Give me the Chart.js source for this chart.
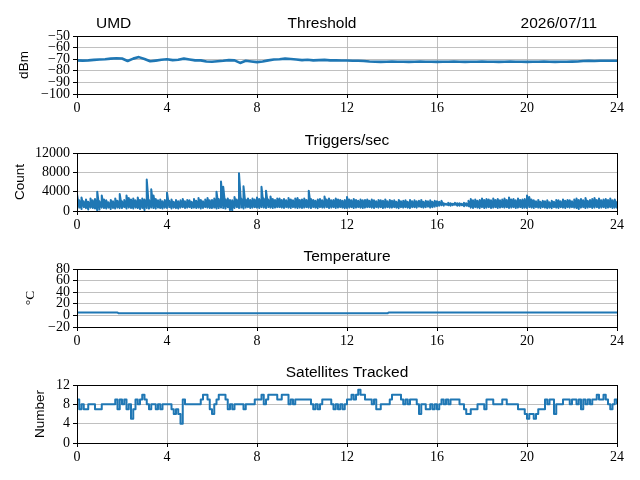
<!DOCTYPE html>
<html>
<head>
<meta charset="utf-8">
<script src="https://cdn.jsdelivr.net/npm/chart.js@4.4.1/dist/chart.umd.min.js"></script>
<style>
  html, body { margin: 0; padding: 0; background: #fff; }
  #fig { position: relative; width: 640px; height: 480px; overflow: hidden; }
  #fig canvas { position: absolute; left: 0; }
</style>
</head>
<body>
<div id="fig">
  <canvas id="c_thr" width="640" height="116" style="top:0px"></canvas>
  <canvas id="c_trg" width="640" height="116" style="top:117px"></canvas>
  <canvas id="c_tmp" width="640" height="116" style="top:233px"></canvas>
  <canvas id="c_sat" width="640" height="116" style="top:349px"></canvas>
</div>
<script>
// --- data (hours of day 0..24) ---
const stationName = "UMD";
const dayLabel = "2026/07/11";
const xTicks = [0, 4, 8, 12, 16, 20, 24];

// threshold, dBm, one reading per 15 min
const thresholdStepH = 0.25;
const thresholdDbm = [
  -71.0, -71.2, -71.0, -70.6, -70.3, -70.0, -69.5, -69.2, -69.4, -71.5,
  -69.5, -68.2, -69.8, -71.8, -71.2, -70.5, -70.0, -70.8, -70.5, -69.5,
  -70.3, -71.0, -71.0, -72.0, -72.2, -71.8, -71.4, -70.8, -71.0, -73.2,
  -71.4, -72.0, -72.5, -72.0, -71.0, -70.2, -70.0, -69.5, -69.8, -70.3,
  -70.8, -70.5, -71.0, -70.8, -70.6, -71.0, -71.0, -71.1, -71.1, -71.3,
  -71.4, -71.5, -72.0, -72.2, -72.3, -72.2, -72.1, -72.2, -72.2, -72.3,
  -72.2, -72.1, -72.2, -72.2, -72.3, -72.2, -72.2, -72.1, -72.2, -72.3,
  -72.2, -72.2, -72.1, -72.2, -72.2, -72.3, -72.2, -72.1, -72.2, -72.2,
  -72.3, -72.2, -72.2, -72.1, -72.2, -72.3, -72.2, -72.2, -72.1, -72.0,
  -71.6, -71.4, -71.5, -71.4, -71.3, -71.4, -71.4
];

// triggers per second: min and max seen in each 6 min slot
const triggerStepH = 0.1;
const triggerHigh = [
  3500, 2200, 2800, 2000, 2400, 1900, 2600, 2200, 2500, 4000,
  2000, 3200, 2400, 2200, 1800, 2300, 2000, 2600, 2100, 3500,
  2000, 2300, 3200, 2700, 2400, 2600, 2200, 2800, 2300, 2600,
  2400, 6500, 2300, 4500, 3200, 2500, 2200, 2400, 2000, 2300,
  3800, 2100, 2400, 1900, 2300, 2000, 2200, 2500, 2000, 2300,
  2200, 1900, 2500, 2100, 2700, 2300, 2000, 2400, 2700, 2200,
  2300, 2600, 4000, 2500, 6100, 5000, 2400, 2600, 2300, 2200,
  2900, 2400, 7800, 2600, 5100, 2400, 2600, 2300, 2600, 2400,
  2800, 2500, 5000, 2600, 4200, 2400, 3000, 2500, 2300, 2600,
  2600, 2300, 2500, 2200, 2700, 2400, 2200, 2600, 2700, 2300,
  2400, 2600, 2300, 4200, 2500, 2300, 2100, 2400, 2500, 2200,
  3000, 2400, 2600, 2200, 2300, 2600, 2400, 2300, 2100, 2300,
  2900, 2400, 2200, 2500, 2300, 2100, 2400, 2200, 2300, 2400,
  2100, 2400, 2200, 2000, 2300, 2200, 2100, 2400, 2000, 2300,
  2100, 2200, 1900, 2300, 2000, 2100, 2200, 1900, 2300, 2000,
  2200, 2000, 2100, 2300, 1900, 2100, 2000, 2200, 1900, 2100,
  2000, 1900, 2100, 1600, 1500, 1700, 1600, 1500, 1700, 1600,
  1600, 1500, 1700, 1600, 2100, 2500, 2200, 2400, 2100, 2300,
  2600, 2300, 2500, 2400, 2200, 2600, 2300, 2500, 2200, 2400,
  2600, 2300, 2800, 2400, 2500, 2200, 2600, 2300, 2400, 2500,
  3200, 2900, 2400, 2200, 2000, 2300, 1900, 2100, 2000, 2200,
  1800, 2100, 1900, 2300, 2200, 2000, 2400, 2100, 2300, 2200,
  2000, 2400, 2600, 2300, 2500, 2200, 2700, 2100, 2300, 2500,
  2700, 2300, 2600, 2200, 2400, 2500, 2300, 2600, 2200, 2400,
  2000
];
const triggerLow = [
  500, 700, 400, 800, 600, 300, 700, 600, 500, 100,
  300, 700, 600, 500, 700, 400, 600, 500, 700, 600,
  600, 800, 500, 700, 600, 500, 700, 600, 400, 600,
  200, 600, 500, 700, 600, 500, 700, 600, 500, 700,
  600, 800, 500, 700, 600, 500, 700, 800, 600, 700,
  800, 600, 700, 600, 700, 500, 600, 800, 700, 600,
  600, 700, 500, 600, 700, 600, 500, 800, 200, 100,
  600, 800, 600, 700, 500, 700, 800, 600, 700, 800,
  700, 600, 800, 700, 600, 800, 700, 600, 700, 800,
  800, 700, 600, 800, 700, 600, 800, 700, 600, 700,
  600, 700, 800, 700, 600, 800, 700, 600, 800, 700,
  700, 800, 600, 700, 800, 600, 700, 800, 700, 600,
  600, 700, 800, 600, 700, 800, 700, 600, 700, 800,
  800, 700, 600, 800, 700, 800, 600, 700, 800, 700,
  700, 800, 700, 600, 800, 700, 800, 700, 600, 800,
  800, 700, 900, 800, 700, 800, 900, 700, 800, 900,
  1000, 1100, 1200, 1100, 1300, 1200, 1100, 1200, 1300, 1100,
  1100, 1200, 1000, 1100, 1000, 700, 600, 800, 700, 600,
  800, 600, 700, 800, 600, 700, 800, 600, 700, 800,
  700, 800, 600, 700, 800, 600, 700, 800, 600, 700,
  600, 800, 700, 600, 800, 700, 600, 800, 700, 600,
  700, 600, 800, 700, 600, 800, 700, 600, 800, 700,
  800, 700, 600, 400, 700, 800, 600, 700, 800, 600,
  700, 800, 600, 700, 800, 600, 700, 800, 600, 700,
  700
];

// temperature, deg C (changes only twice in the day)
const tempHours = [0, 1.8, 1.85, 13.8, 13.85, 24];
const tempValues = [5, 5, 3.5, 3.5, 5, 5];

// satellites tracked, one reading per 6 min
const satStepH = 0.1;
const satCounts = [
  9, 7, 8, 7, 7, 8, 8, 8, 7, 7,
  7, 8, 8, 8, 8, 8, 8, 9, 7, 9,
  8, 9, 7, 8, 5, 7, 9, 8, 9, 10,
  9, 8, 7, 8, 8, 7, 8, 7, 8, 8,
  8, 8, 7, 6, 7, 6, 4, 9, 8, 8,
  8, 8, 8, 8, 8, 9, 10, 10, 9, 7,
  6, 8, 9, 10, 10, 10, 9, 7, 8, 7,
  8, 8, 8, 8, 7, 8, 8, 8, 8, 9,
  9, 9, 10, 8, 9, 10, 10, 10, 10, 9,
  9, 10, 10, 10, 8, 9, 8, 9, 9, 9,
  9, 9, 9, 9, 8, 7, 8, 7, 8, 9,
  9, 9, 9, 8, 7, 8, 7, 8, 7, 8,
  9, 9, 10, 9, 10, 11, 10, 10, 9, 9,
  9, 8, 9, 7, 7, 8, 8, 8, 8, 9,
  10, 10, 10, 10, 9, 8, 9, 8, 9, 9,
  9, 8, 6, 8, 8, 7, 7, 8, 7, 8,
  7, 8, 9, 8, 9, 8, 9, 9, 9, 9,
  8, 8, 7, 6, 6, 7, 7, 7, 8, 8,
  8, 7, 9, 9, 9, 8, 8, 8, 8, 9,
  9, 8, 8, 8, 8, 8, 7, 7, 7, 6,
  5, 6, 6, 5, 6, 7, 7, 7, 9, 8,
  9, 9, 6, 8, 8, 8, 9, 9, 9, 8,
  9, 9, 8, 9, 7, 9, 8, 9, 8, 9,
  9, 10, 9, 9, 10, 9, 8, 7, 8, 9,
  8
];

const LINE = '#1f77b4';
const SERIF = "'Liberation Serif', 'DejaVu Serif', serif";
const SANS = "'Liberation Sans', 'DejaVu Sans', sans-serif";

Chart.defaults.color = '#000';
Chart.defaults.font.family = SERIF;
Chart.defaults.font.size = 14;

function toPoints(values, stepH) {
  return values.map((v, i) => ({ x: i * stepH, y: v }));
}

// low then high in each slot, so the line sweeps the whole spread
function toSpreadPoints(lows, highs, stepH) {
  const pts = [];
  lows.forEach((lo, i) => {
    pts.push({ x: i * stepH, y: lo });
    pts.push({ x: i * stepH, y: highs[i] });
  });
  return pts;
}

function tickText(v) {
  return v < 0 ? '\u2212' + Math.abs(v) : String(v);
}

// axes box + titles drawn like matplotlib
const axesDecor = {
  id: 'axesDecor',
  afterDraw(chart, args, opts) {
    const { ctx, chartArea: a } = chart;
    ctx.save();
    ctx.strokeStyle = '#000';
    ctx.lineWidth = 1;
    ctx.strokeRect(Math.round(a.left) + 0.5, Math.round(a.top) + 0.5,
                   Math.round(a.right - a.left), Math.round(a.bottom - a.top));
    ctx.fillStyle = '#000';
    ctx.font = '15.5px ' + SANS;
    ctx.textBaseline = 'alphabetic';
    const baseY = a.top - 8;
    if (opts.title) {
      ctx.textAlign = 'center';
      const cx = opts.titleX != null ? opts.titleX : (a.left + a.right) / 2;
      ctx.fillText(opts.title, cx, baseY);
    }
    if (opts.leftText) {
      ctx.textAlign = 'left';
      ctx.fillText(opts.leftText, opts.leftX, baseY);
    }
    if (opts.rightText) {
      ctx.textAlign = 'right';
      ctx.fillText(opts.rightText, opts.rightX, baseY);
    }
    ctx.restore();
  }
};

function makePanel(canvasId, datasets, y, decor) {
  return new Chart(document.getElementById(canvasId), {
    type: 'line',
    data: { datasets: datasets },
    plugins: [axesDecor],
    options: {
      responsive: false,
      animation: false,
      events: [],
      layout: { padding: { top: 36, right: 23, left: 0, bottom: 0 } },
      elements: {
        point: { radius: 0 },
        line: { tension: 0, borderJoinStyle: 'round', borderCapStyle: 'butt' }
      },
      plugins: {
        legend: { display: false },
        tooltip: { enabled: false },
        axesDecor: decor
      },
      scales: {
        x: {
          type: 'linear',
          min: 0, max: 24,
          afterBuildTicks: (s) => { s.ticks = xTicks.map(v => ({ value: v })); },
          afterFit: (s) => { s.height = 22; },
          ticks: { callback: tickText, padding: 2, maxRotation: 0, autoSkip: false,
                   font: { family: SERIF, size: 14 } },
          grid: { color: '#b0b0b0', lineWidth: 0.8, tickColor: '#000', tickLength: 4, tickWidth: 1 },
          border: { color: '#000', width: 1 }
        },
        y: {
          min: y.min, max: y.max,
          afterBuildTicks: (s) => { s.ticks = y.ticks.map(v => ({ value: v })); },
          afterFit: (s) => { s.width = 77; },
          ticks: { callback: tickText, padding: 3, autoSkip: false,
                   font: { family: SERIF, size: 14 } },
          grid: { color: '#b0b0b0', lineWidth: 0.8, tickColor: '#000', tickLength: 4, tickWidth: 1 },
          border: { color: '#000', width: 1 },
          title: {
            display: true,
            text: y.label,
            font: { family: y.labelFont || SANS, size: 13.5 },
            padding: { top: y.labelPad, bottom: 0 }
          }
        }
      }
    }
  });
}

makePanel('c_thr',
  [{ data: toPoints(thresholdDbm, thresholdStepH), borderColor: LINE, borderWidth: 2.6 }],
  { min: -100, max: -50, ticks: [-100, -90, -80, -70, -60, -50], label: 'dBm', labelPad: 16 },
  { title: 'Threshold', titleX: 322, leftText: stationName, leftX: 96, rightText: dayLabel, rightX: 597 });

makePanel('c_trg',
  [{ data: toSpreadPoints(triggerLow, triggerHigh, triggerStepH), borderColor: LINE, borderWidth: 2 }],
  { min: 0, max: 12000, ticks: [0, 4000, 8000, 12000], label: 'Count', labelPad: 12 },
  { title: 'Triggers/sec' });

makePanel('c_tmp',
  [{ data: tempHours.map((h, i) => ({ x: h, y: tempValues[i] })), borderColor: LINE, borderWidth: 2 }],
  { min: -20, max: 80, ticks: [-20, 0, 20, 40, 60, 80], label: '\u00b0C', labelFont: SERIF, labelPad: 22 },
  { title: 'Temperature' });

makePanel('c_sat',
  [{ data: toPoints(satCounts, satStepH), borderColor: LINE, borderWidth: 2, stepped: true }],
  { min: 0, max: 12, ticks: [0, 4, 8, 12], label: 'Number', labelPad: 32 },
  { title: 'Satellites Tracked' });
</script>
</body>
</html>
